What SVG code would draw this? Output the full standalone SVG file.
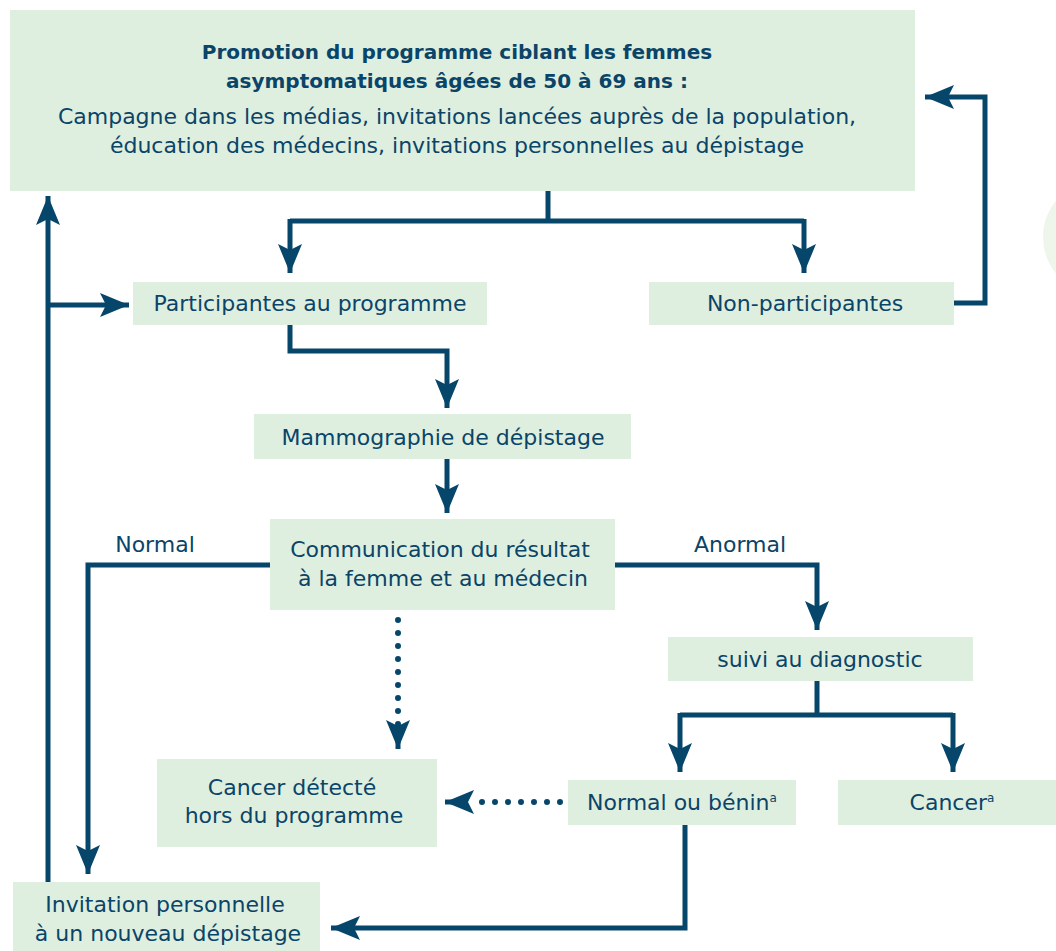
<svg xmlns="http://www.w3.org/2000/svg" width="1056" height="951" viewBox="0 0 1056 951">
<style>
.box{fill:#dfefdf}
.t{font-family:"DejaVu Sans","Noto Sans",sans-serif;font-size:22px;fill:#0a4468;text-anchor:middle}
.b{font-weight:bold;font-size:20px}
.ln{fill:none;stroke:#07466b;stroke-width:5}
.dot{fill:none;stroke:#07466b;stroke-width:6;stroke-linecap:round;stroke-dasharray:0 13}
.sup{font-size:12px}
</style>
<defs>
<marker id="ah" viewBox="-30 -13 32 26" markerWidth="32" markerHeight="26" refX="0" refY="0" orient="auto" markerUnits="userSpaceOnUse">
<path d="M0,0 L-29,-12 L-23,0 L-29,12 Z" fill="#07466b"/>
</marker>
</defs>
<rect width="1056" height="951" fill="#ffffff"/>
<circle cx="1101" cy="237" r="58" fill="#eef6ec"/>
<g id="connectors">
<path class="ln" d="M548,191 V221"/>
<path class="ln" d="M290,221 H804"/>
<path class="ln" d="M290,219 V273" marker-end="url(#ah)"/>
<path class="ln" d="M804,219 V273" marker-end="url(#ah)"/>
<path class="ln" d="M954,303 H985 V97 H925" marker-end="url(#ah)"/>
<path class="ln" d="M48,882 V196" marker-end="url(#ah)"/>
<path class="ln" d="M48,305 H129" marker-end="url(#ah)"/>
<path class="ln" d="M290,325 V351 H447 V408" marker-end="url(#ah)"/>
<path class="ln" d="M447,459 V513" marker-end="url(#ah)"/>
<path class="ln" d="M270,565 H88 V874" marker-end="url(#ah)"/>
<path class="ln" d="M615,565 H817 V630" marker-end="url(#ah)"/>
<path class="ln" d="M817,681 V715"/>
<path class="ln" d="M680,715 H953"/>
<path class="ln" d="M680,713 V772" marker-end="url(#ah)"/>
<path class="ln" d="M953,713 V772" marker-end="url(#ah)"/>
<path class="ln" d="M685,825 V928 H331" marker-end="url(#ah)"/>
<path class="dot" d="M398,620 V735"/>
<path class="ln" d="M398,737 V749" marker-end="url(#ah)" stroke-width="0"/>
<path class="dot" d="M560,802 H470"/>
<path class="ln" d="M462,802 H445" marker-end="url(#ah)" stroke-width="0"/>
<text class="t" x="155" y="552">Normal</text>
<text class="t" x="740" y="552">Anormal</text>
</g>
<g id="promotion">
<rect class="box" x="10" y="10" width="905" height="181"/>
<text class="t b" x="457" y="59">Promotion du programme ciblant les femmes</text>
<text class="t b" x="457" y="88">asymptomatiques âgées de 50 à 69 ans :</text>
<text class="t" x="457" y="124">Campagne dans les médias, invitations lancées auprès de la population,</text>
<text class="t" x="457" y="153">éducation des médecins, invitations personnelles au dépistage</text>
</g>
<g id="participantes">
<rect class="box" x="133" y="282" width="354" height="43"/>
<text class="t" x="310" y="311">Participantes au programme</text>
</g>
<g id="non-participantes">
<rect class="box" x="649" y="282" width="305" height="43"/>
<text class="t" x="805" y="311">Non-participantes</text>
</g>
<g id="mammographie">
<rect class="box" x="254" y="414" width="377" height="45"/>
<text class="t" x="443" y="445">Mammographie de dépistage</text>
</g>
<g id="communication">
<rect class="box" x="270" y="519" width="345" height="91"/>
<text class="t" x="440" y="557">Communication du résultat</text>
<text class="t" x="443" y="586">à la femme et au médecin</text>
</g>
<g id="suivi">
<rect class="box" x="668" y="637" width="305" height="44"/>
<text class="t" x="820" y="667">suivi au diagnostic</text>
</g>
<g id="cancer-hors">
<rect class="box" x="157" y="759" width="280" height="88"/>
<text class="t" x="292" y="795">Cancer détecté</text>
<text class="t" x="294" y="823">hors du programme</text>
</g>
<g id="normal-benin">
<rect class="box" x="568" y="780" width="228" height="45"/>
<text class="t" x="682" y="810">Normal ou bénin<tspan class="sup" dy="-8">a</tspan></text>
</g>
<g id="cancer">
<rect class="box" x="838" y="780" width="218" height="45"/>
<text class="t" x="952" y="810">Cancer<tspan class="sup" dy="-8">a</tspan></text>
</g>
<g id="invitation">
<rect class="box" x="13" y="882" width="307" height="69"/>
<text class="t" x="165" y="912">Invitation personnelle</text>
<text class="t" x="168" y="941">à un nouveau dépistage</text>
</g>
</svg>
